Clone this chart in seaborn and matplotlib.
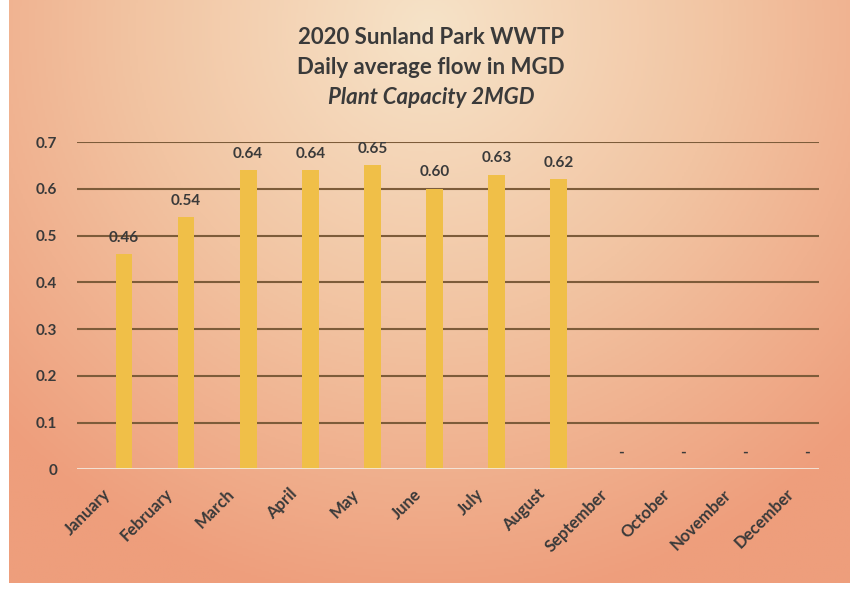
import numpy as np
import pandas as pd
import seaborn as sns
import matplotlib.pyplot as plt
from matplotlib.colors import LinearSegmentedColormap
from matplotlib.transforms import ScaledTranslation

months = ["January", "February", "March", "April", "May", "June", "July",
          "August", "September", "October", "November", "December"]
flow = [0.46, 0.54, 0.64, 0.64, 0.65, 0.60, 0.63, 0.62, 0, 0, 0, 0]
labels = ["0.46", "0.54", "0.64", "0.64", "0.65", "0.60", "0.63", "0.62", "-", "-", "-", "-"]
yticks = [0, 0.1, 0.2, 0.3, 0.4, 0.5, 0.6, 0.7]

sns.set_theme(style="white")
plt.rcParams['font.family'] = ['Lato', 'DejaVu Sans']

fig = plt.figure(figsize=(8.53, 5.92), dpi=100)
fig.patch.set_facecolor("white")

# background gradient panel
bg = fig.add_axes([0.01, 0.015, 0.985, 0.985])
bg.set_axis_off()
yy, xx = np.mgrid[0:1:300j, 0:1:430j]
r = np.sqrt(((xx - 0.5) / 0.7) ** 2 + ((yy - 0.05) / 1.0) ** 2)
cmap = LinearSegmentedColormap.from_list("bg", ["#f6e3c8", "#f2c4a2", "#ee9e7c"])
bg.imshow(np.clip(r, 0, 1), cmap=cmap, aspect="auto", extent=[0, 1, 1, 0], vmin=0, vmax=1)

ax = fig.add_axes([0.09, 0.207, 0.87, 0.553])
ax.patch.set_alpha(0)
df = pd.DataFrame({"month": months, "flow": flow})
sns.barplot(data=df, x="month", y="flow", color="#f0bf48", saturation=1, width=0.27,
            linewidth=0, edgecolor="none", ax=ax, zorder=3)

ax.set_ylim(0, 0.7)
ax.set_xlim(-0.76, 11.19)
ax.set_yticks(yticks)
ax.set_yticklabels(["0" if v == 0 else f"{v:.1f}" for v in yticks])
for v in yticks[1:]:
    ax.axhline(v, color="#7d5c3a", lw=1.5, zorder=1)
ax.axhline(0, color="#f4ede4", lw=1.2, zorder=4)
for s in ax.spines.values():
    s.set_visible(False)
ax.tick_params(axis="y", length=0, labelsize=11, colors="#3a3a3a", pad=14)
ax.tick_params(axis="x", length=0, labelsize=12, colors="#3a3a3a", pad=16)
plt.setp(ax.get_yticklabels(), fontweight="bold")
shift = ScaledTranslation(-16 / 100, 0, fig.dpi_scale_trans)
for lab in ax.get_xticklabels():
    lab.set_rotation(45)
    lab.set_ha("right")
    lab.set_va("center")
    lab.set_rotation_mode("anchor")
    lab.set_fontweight("bold")
    lab.set_transform(lab.get_transform() + shift)
ax.set_xlabel("")
ax.set_ylabel("")

for i, (v, t) in enumerate(zip(flow, labels)):
    ax.text(i, v + 0.02, t, ha="center", va="bottom", fontsize=11,
            fontweight="bold", color="#3a3a3a", zorder=5)

fig.text(0.505, 0.937, "2020 Sunland Park WWTP", ha="center", va="center",
         fontsize=16, fontweight="bold", color="#3a3a3a")
fig.text(0.505, 0.886, "Daily average flow in MGD", ha="center", va="center",
         fontsize=16, fontweight="bold", color="#3a3a3a")
fig.text(0.505, 0.835, "Plant Capacity 2MGD", ha="center", va="center",
         fontsize=16, fontweight="bold", fontstyle="italic", color="#3a3a3a")

fig.savefig("out.png", dpi=100)
